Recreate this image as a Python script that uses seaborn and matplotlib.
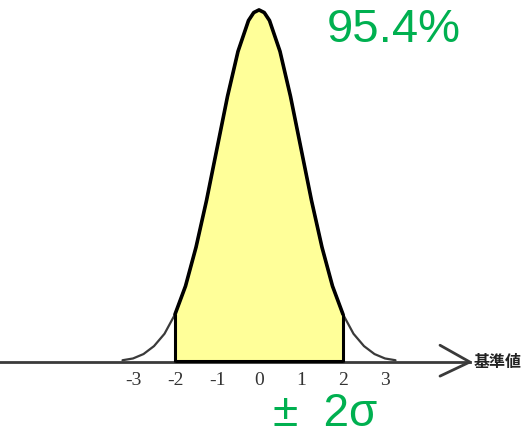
import numpy as np
import pandas as pd
import matplotlib
matplotlib.use("Agg")
import matplotlib.pyplot as plt
import seaborn as sns

# bell curve heights, x in standard units
z_values = [-3.25, -3.0, -2.75, -2.5, -2.25, -2.0, -1.75, -1.5, -1.25, -1.0, -0.75, -0.5, -0.25, -0.125,
            0.0, 0.125, 0.25, 0.5, 0.75, 1.0, 1.25, 1.5, 1.75, 2.0, 2.25, 2.5, 2.75, 3.0, 3.25]
density = [0.002, 0.004, 0.009, 0.018, 0.032, 0.054, 0.086, 0.130, 0.183, 0.242, 0.301, 0.352, 0.387, 0.396,
           0.399, 0.396, 0.387, 0.352, 0.301, 0.242, 0.183, 0.130, 0.086, 0.054, 0.032, 0.018, 0.009, 0.004, 0.002]
tick_positions = [-3, -2, -1, 0, 1, 2, 3]
tick_labels = ["-3", "-2", "-1", "0", "1", "2", "3"]
band = (-2, 2)
share_text = "95.4%"
band_text = "±  2σ"
axis_label = "基準値"

sns.set_theme(style="white")
plt.rcParams['font.family'] = ['Liberation Sans', 'Noto Sans CJK JP', 'DejaVu Sans']

green = "#00B050"
fill_yellow = "#FFFF99"

df = pd.DataFrame({"z": z_values, "density": density})
inner = df[(df["z"] >= band[0]) & (df["z"] <= band[1])]

fig = plt.figure(figsize=(5.23, 4.41), dpi=100)
ax = fig.add_axes([0, 0, 1, 1])

# shaded +-2 sigma area with its outline
ax.fill_between(inner["z"], 0, inner["density"], color=fill_yellow, zorder=1)
sns.lineplot(data=df, x="z", y="density", color="#3a3a3a", lw=1.6, ax=ax, zorder=2)
sns.lineplot(data=inner, x="z", y="density", color="black", lw=2.6, ax=ax, zorder=3)
edge_heights = [inner["density"].iloc[0], inner["density"].iloc[-1]]
ax.vlines(list(band), 0, edge_heights, color="black", lw=2.2, zorder=3)
ax.hlines(0.001, band[0], band[1], color="black", lw=2.2, zorder=3)

# axis line with open arrow head
xmin, xmax = -259 / 42, 264 / 42
ax.set_xlim(xmin, xmax)
ax.set_ylim(-79 / 882.4, 362 / 882.4)
for side in ["top", "left", "right"]:
    ax.spines[side].set_visible(False)
ax.spines["bottom"].set_position(("data", 0))
ax.spines["bottom"].set_bounds(xmin, 5.02)
ax.spines["bottom"].set_color("#3a3a3a")
ax.spines["bottom"].set_linewidth(2)
ax.plot([4.31, 5.02, 4.31], [0.019, 0.0, -0.016], color="#3a3a3a", lw=2, solid_capstyle="round")
ax.text(5.11, 0.0, axis_label, fontsize=11.5, fontweight="bold", family=['Noto Sans CJK JP'],
        ha="left", va="center", color="#222222")

ax.set_yticks([])
ax.set_xticks(tick_positions)
ax.set_xticklabels(tick_labels, fontsize=14, family=['Liberation Serif'], color="#333333")
ax.tick_params(axis="x", length=0, pad=7)
ax.set_xlabel("")
ax.set_ylabel("")

ax.text(3.21, 0.3768, share_text, fontsize=34, color=green, ha="center", va="center")
ax.text(1.57, -0.0589, band_text, fontsize=33, color=green, ha="center", va="center")

fig.savefig("out.png", dpi=100)
